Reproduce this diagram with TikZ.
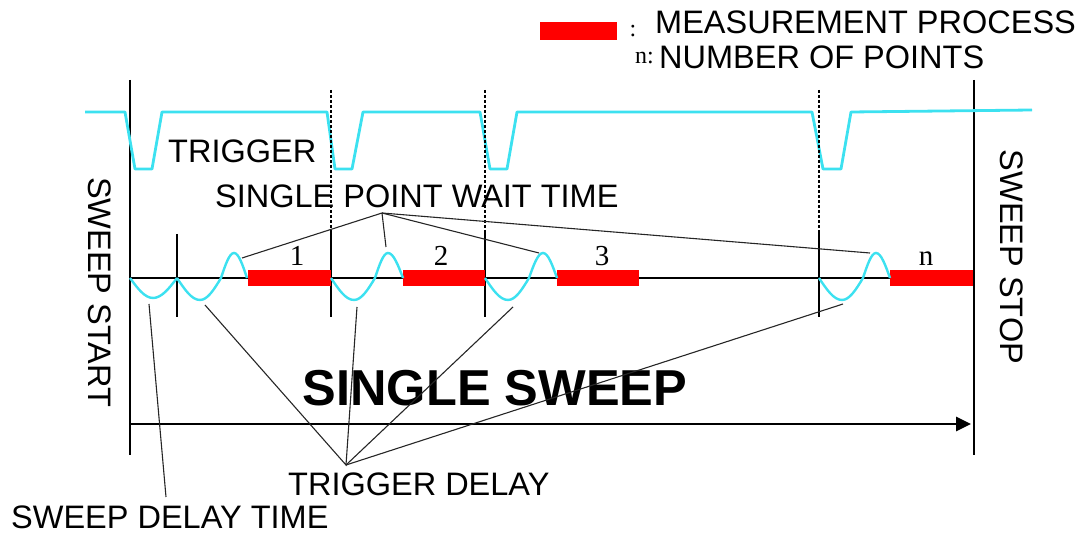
\documentclass[tikz,border=0pt]{standalone}
\usepackage{fontspec}
\setmainfont{Liberation Sans}
\newfontfamily\numfont{Liberation Serif}
\usetikzlibrary{arrows.meta}
\definecolor{sigcyan}{RGB}{60,225,240}
\definecolor{barred}{RGB}{255,0,0}
\tikzset{
  lbl/.style={inner sep=0pt, font=\fontsize{32.5}{34}\selectfont},
  numlbl/.style={inner sep=0pt, font=\numfont\fontsize{29}{31}\selectfont},
  keylbl/.style={inner sep=0pt, font=\numfont\fontsize{24}{26}\selectfont},
  pointer/.style={line width=1.1pt, black!85},
  mainline/.style={line width=2.6pt},
  wave/.style={line width=2.4pt, sigcyan},
  bar/.style={fill=barred, draw=none},
  tick/.style={line width=1.4pt},
  dashtick/.style={line width=1.4pt, dash pattern=on 3pt off 2pt}
}
\begin{document}
\begin{tikzpicture}[x=1pt,y=-1pt]
\useasboundingbox (0,0) rectangle (1085,534);
% legend
\fill[bar] (540,22) rectangle (617,40);
\node[keylbl] (colon) at (633,31) {:};
\node[keylbl, anchor=west] (nkey) at (635,58) {n:};
\node[lbl, anchor=west] (meas) at (655,22) {MEASUREMENT PROCESS};
\node[lbl, anchor=west] (npts) at (659,57) {NUMBER OF POINTS};
% main vertical lines
\coordinate (L1) at (130,80); \coordinate (L2) at (130,455);
\coordinate (R1) at (974,80); \coordinate (R2) at (974,455);
\draw[mainline] (L1) -- (L2);
\draw[mainline] (R1) -- (R2);
% trigger signal
\draw[wave, line width=2.8pt, line join=round]
  (85,112) -- (125,112) -- (135,169) -- (152,169) -- (162,112)
  -- (327,112) -- (335,169) -- (352,169) -- (363,112)
  -- (480,112) -- (490,169) -- (507,169) -- (517,112)
  -- (812,112) -- (823,169) -- (841,169) -- (851,112) -- (1032,110);
% dashed / solid markers
\foreach \xx in {331,485,819}{
  \draw[dashtick] (\xx,90) -- (\xx,232);
  \draw[tick] (\xx,232) -- (\xx,317);
}
\draw[tick] (177,234) -- (177,317);
% axis
\coordinate (A1) at (130,278); \coordinate (A2) at (974,278);
\draw[line width=2.4pt] (A1) -- (A2);
% red bars
\fill[bar] (248,270) rectangle (331,286);
\fill[bar] (403,270) rectangle (485,286);
\fill[bar] (557,270) rectangle (639,286);
\fill[bar] (890,270) rectangle (973,286);
\node[numlbl] (n1) at (297,256) {1};
\node[numlbl] (n2) at (441,256) {2};
\node[numlbl] (n3) at (602,256) {3};
\node[numlbl] (nn) at (926,259) {n};
% waves
\draw[wave] (130,278) sin (153,298) cos (177,278);
\draw[wave] (177,278) sin (200,300) cos (221,278) sin (234,253) cos (247,278);
\draw[wave] (331,278) sin (354,300) cos (375,278) sin (388,253) cos (403,278);
\draw[wave] (485,278) sin (508,300) cos (529,278) sin (543,253) cos (557,278);
\draw[wave] (819,278) sin (842,300) cos (863,278) sin (876,253) cos (890,278);
% bottom arrow
\coordinate (B1) at (130,424); \coordinate (B2) at (971,424);
\draw[line width=2.6pt, -{Triangle[length=15pt,width=14pt]}] (B1) -- (B2);
% labels
\node[lbl, anchor=west] (trig) at (168,151) {TRIGGER};
\node[lbl, anchor=west] (spwt) at (215,196) {SINGLE POINT WAIT TIME};
\node[lbl, rotate=-90] (sstart) at (100,292) {SWEEP START};
\node[lbl, rotate=-90] (sstop) at (1012,257) {SWEEP STOP};
\node[inner sep=0pt, font=\bfseries\fontsize{50.5}{52}\selectfont] (ss) at (495,388) {SINGLE SWEEP};
\node[lbl, anchor=west] (tdel) at (288,484) {TRIGGER DELAY};
\node[lbl, anchor=west] (sdel) at (11,517) {SWEEP DELAY TIME};
% pointer lines: single point wait time
\coordinate (W) at (382,213);
\coordinate (w1) at (242,258); \coordinate (w2) at (386,247);
\coordinate (w3) at (539,253); \coordinate (w4) at (870,253);
\draw[pointer] (w1) -- (W) -- (w2);
\draw[pointer] (W) -- (w3);
\draw[pointer] (W) -- (w4);
% trigger delay
\coordinate (T) at (346,465);
\coordinate (t1) at (205,305); \coordinate (t2) at (357,307);
\coordinate (t3) at (513,307); \coordinate (t4) at (843,304);
\draw[pointer] (t1) -- (T) -- (t2);
\draw[pointer] (T) -- (t3);
\draw[pointer] (T) -- (t4);
% sweep delay
\coordinate (S1) at (149,304); \coordinate (S2) at (166,497);
\draw[pointer] (S1) -- (S2);
\end{tikzpicture}
\end{document}
